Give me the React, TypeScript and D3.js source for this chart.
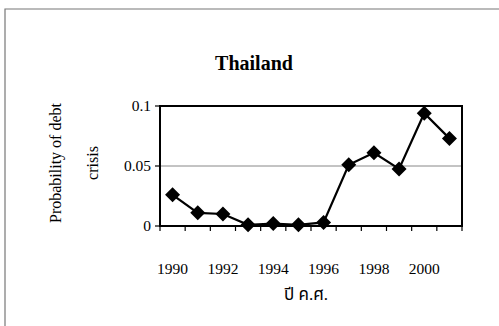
import React from "react";
import * as d3 from "d3";

const years = [1990, 1991, 1992, 1993, 1994, 1995, 1996, 1997, 1998, 1999, 2000, 2001];
const probability = [0.026, 0.011, 0.010, 0.001, 0.002, 0.001, 0.003, 0.051, 0.061, 0.0475, 0.094, 0.073];
const yTicks = [0, 0.05, 0.1];
const yTickLabels = ["0", "0.05", "0.1"];
const xLabelYears = [1990, 1992, 1994, 1996, 1998, 2000];
const title = "Thailand";
const yTitle = ["Probability of debt", "crisis"];
const xTitle = "ปี ค.ศ.";

const W = 499, H = 326;
const plot = { left: 160, right: 462, top: 106, bottom: 226 };
const serif = "'Liberation Serif', 'Times New Roman', 'Noto Sans Thai', serif";

export default function App() {
  const x = d3.scaleBand<number>().domain(years).range([plot.left, plot.right]).padding(0);
  const y = d3.scaleLinear().domain([0, 0.1]).range([plot.bottom, plot.top]);
  const cx = (yr: number) => (x(yr) as number) + x.bandwidth() / 2;
  const line = d3.line<number>().x((_, i) => cx(years[i])).y((d) => y(d));
  const tickXs = years.map((yr) => x(yr) as number).concat([plot.right]);
  const diamond = (px: number, py: number, r: number) =>
    `M${px},${py - r}L${px + r},${py}L${px},${py + r}L${px - r},${py}Z`;

  return (
    <svg width={W} height={H} style={{ position: "absolute", left: 0, top: 0, background: "#fff" }}>
      <rect x={0} y={0} width={W} height={H} fill="#fff" />
      {/* outer frame */}
      <path d={`M5,${H}L5,9L${W},9`} fill="none" stroke="#777" strokeWidth={1.2} />
      <text x={254} y={70} textAnchor="middle" fontFamily={serif} fontWeight="bold" fontSize={20}>{title}</text>
      {/* gridline */}
      <line x1={plot.left} x2={plot.right} y1={y(0.05)} y2={y(0.05)} stroke="#888" strokeWidth={1} />
      {/* plot frame */}
      <rect x={plot.left} y={plot.top} width={plot.right - plot.left} height={plot.bottom - plot.top} fill="none" stroke="#000" strokeWidth={2} />
      {/* y ticks */}
      {yTicks.map((t, i) => (
        <g key={t}>
          <line x1={plot.left - 5} x2={plot.left} y1={y(t)} y2={y(t)} stroke="#000" strokeWidth={1.2} />
          <text x={151} y={y(t) + 5} textAnchor="end" fontFamily={serif} fontSize={15.5}>{yTickLabels[i]}</text>
        </g>
      ))}
      {/* x ticks */}
      {tickXs.map((tx, i) => (
        <line key={i} x1={tx} x2={tx} y1={plot.bottom} y2={plot.bottom + 5} stroke="#000" strokeWidth={1.2} />
      ))}
      {xLabelYears.map((yr) => (
        <text key={yr} x={cx(yr)} y={274} textAnchor="middle" fontFamily={serif} fontSize={15.5}>{yr}</text>
      ))}
      <text x={306} y={300} textAnchor="middle" fontFamily={serif} fontSize={17}>{xTitle}</text>
      {/* y title */}
      <g transform="translate(56,163) rotate(-90)">
        <text x={0} y={5} textAnchor="middle" fontFamily={serif} fontSize={16}>{yTitle[0]}</text>
      </g>
      <g transform="translate(93,163) rotate(-90)">
        <text x={0} y={5} textAnchor="middle" fontFamily={serif} fontSize={16}>{yTitle[1]}</text>
      </g>
      {/* series */}
      <path d={line(probability) || ""} fill="none" stroke="#000" strokeWidth={2.2} />
      {probability.map((v, i) => (
        <path key={i} d={diamond(cx(years[i]), y(v), 7.5)} fill="#000" />
      ))}
    </svg>
  );
}
